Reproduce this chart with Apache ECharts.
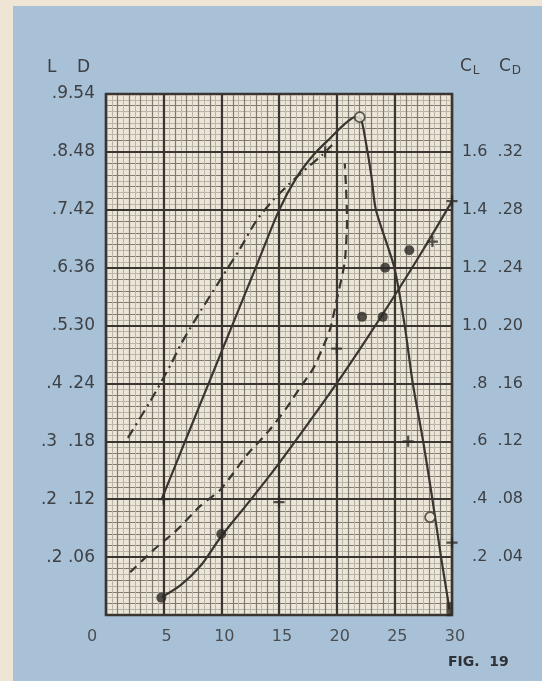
<!DOCTYPE html>
<html><head><meta charset="utf-8">
<script src="https://cdn.jsdelivr.net/npm/echarts@6/dist/echarts.min.js"></script>
<style>html,body{margin:0;padding:0;background:#a9c1d6;}#c{width:542px;height:681px;}</style>
</head><body><div id="c"></div>
<script>
// ---- data ----
const xTicks = [0, 5, 10, 15, 20, 25, 30];
const leftTickLabels = ['', '.2 .06', '.2  .12', '.3  .18', '.4 .24', '.5.30', '.6.36', '.7.42', '.8.48', '.9.54'];
const rightTickLabels = ['', '.2  .04', '.4  .08', '.6  .12', '.8  .16', '1.0  .20', '1.2  .24', '1.4  .28', '1.6  .32', ''];

// solid curve rising to a peak then falling
const alphaPeak = [4.8, 7.0, 9.0, 11.0, 13.0, 15.0, 16.5, 18.0, 19.5, 20.8, 21.6, 22.1, 22.5, 23.0, 23.4, 25.0, 25.9, 26.6, 27.5, 28.3, 29.05, 29.65, 29.75];
const valPeak   = [1.99, 3.07, 4.05, 5.03, 6.01, 6.99, 7.55, 7.95, 8.25, 8.5, 8.6, 8.57, 8.2, 7.6, 7.0, 6.0, 5.0, 4.0, 3.0, 2.0, 1.0, 0.26, 0.1];

// left dash-dot curve
const alphaDashDot = [1.9, 3.8, 5.6, 6.5, 8.2, 10.0, 11.6, 13.0, 14.5, 15.8, 17.0, 18.7, 19.6];
const valDashDot   = [3.06, 3.68, 4.32, 4.68, 5.25, 5.82, 6.32, 6.8, 7.17, 7.43, 7.65, 7.94, 8.12];

// middle dashed curve
const alphaDash = [2.1, 4.1, 6.15, 8.15, 9.9, 11.0, 12.2, 14.2, 15.7, 16.8, 18.0, 19.4, 20.0, 20.7, 20.9, 20.8, 20.7];
const valDash   = [0.74, 1.12, 1.47, 1.88, 2.16, 2.44, 2.76, 3.2, 3.59, 3.92, 4.27, 4.92, 5.44, 6.1, 6.82, 7.43, 7.8];

// right solid curve
const alphaRight = [4.85, 6.5, 8.2, 10.0, 12.5, 15.0, 17.5, 20.0, 22.5, 25.0, 27.5, 30.0];
const valRight   = [0.31, 0.52, 0.85, 1.36, 1.98, 2.62, 3.3, 4.0, 4.74, 5.51, 6.31, 7.15];

// plotted test points
const openPoints   = [[22.0, 8.6], [28.1, 1.69]];
const filledPoints = [[10.0, 1.4], [22.2, 5.15], [24.0, 5.15], [24.2, 6.0], [26.3, 6.3], [4.8, 0.3]];
const crossPoints  = [[15.0, 1.95], [20.0, 4.6], [26.2, 3.0], [19.0, 8.0], [30.0, 7.15], [28.3, 6.45], [5.0, 2.0], [30.0, 1.25]];
const endPoints    = [[29.75, 0.1]];

const pair = (xs, ys) => xs.map((x, i) => [x, ys[i]]);

const INK = '#3a3530';
const TXT = '#3d4146';
const FONT = 'DejaVu Sans';
const chart = echarts.init(document.getElementById('c'), null, {renderer: 'canvas'});

const baseHiddenX = {type: 'value', min: 0, max: 30, gridIndex: 0, axisLabel: {show: false}, axisTick: {show: false}, axisLine: {show: false}};
const baseHiddenY = {type: 'value', min: 0, max: 9, gridIndex: 0, axisLabel: {show: false}, axisTick: {show: false}, axisLine: {show: false}};

chart.setOption({
  animation: false,
  backgroundColor: '#a9c1d6',
  grid: {left: 106, right: 90, top: 94, bottom: 66, show: true, backgroundColor: '#ece6d8', borderColor: INK, borderWidth: 2.5},
  xAxis: [
    Object.assign({}, baseHiddenX, {
      interval: 5, z: 3,
      axisLabel: {show: true, margin: 14, color: '#4a4e52', fontFamily: FONT, fontSize: 16,
        formatter: v => v === 0 ? '{z|0}' : '{n|' + v + '}',
        rich: {z: {padding: [0, 28, 0, 0], fontSize: 16, fontFamily: FONT, color: '#4a4e52'}, n: {padding: [0, 0, 0, 6], fontSize: 16, fontFamily: FONT, color: '#4a4e52'}}},
      splitLine: {show: true, lineStyle: {color: INK, width: 2.2}}
    }),
    Object.assign({}, baseHiddenX, {
      interval: 1, z: 1,
      splitLine: {show: true, lineStyle: {color: '#817a70', width: 1.2}},
      minorTick: {show: false, splitNumber: 2},
      minorSplitLine: {show: true, lineStyle: {color: '#bbb4a8', width: 1}}
    })
  ],
  yAxis: [
    Object.assign({}, baseHiddenY, {
      interval: 1, z: 3, position: 'left',
      axisLabel: {show: true, margin: 11, color: TXT, fontFamily: FONT, fontSize: 17, formatter: v => leftTickLabels[v] || ''},
      splitLine: {show: true, lineStyle: {color: INK, width: 2.2}}
    }),
    Object.assign({}, baseHiddenY, {
      interval: 1, position: 'right',
      axisLabel: {show: true, margin: 71, align: 'right', color: TXT, fontFamily: FONT, fontSize: 16, formatter: v => rightTickLabels[v] || ''},
      splitLine: {show: false}
    }),
    Object.assign({}, baseHiddenY, {
      interval: 0.2, z: 1,
      splitLine: {show: true, lineStyle: {color: '#817a70', width: 1.2}},
      minorTick: {show: false, splitNumber: 2},
      minorSplitLine: {show: true, lineStyle: {color: '#bbb4a8', width: 1}}
    })
  ],
  graphic: [
    {type: 'rect', left: 0, top: 0, shape: {width: 13, height: 681}, style: {fill: '#eee5d4'}, z: -1},
    {type: 'rect', left: 0, top: 0, shape: {width: 542, height: 6}, style: {fill: '#eee5d4'}, z: -1},
    {type: 'text', left: 47, top: 59, style: {text: 'L', font: '17px "DejaVu Sans"', fill: TXT}},
    {type: 'text', left: 77, top: 59, style: {text: 'D', font: '17px "DejaVu Sans"', fill: TXT}},
    {type: 'text', left: 460, top: 58, style: {text: 'C{s|L}', font: '17px "DejaVu Sans"', fill: TXT,
      rich: {s: {fontSize: 12, fontFamily: FONT, fill: TXT, padding: [8, 0, 0, 1]}}}},
    {type: 'text', left: 499, top: 58, style: {text: 'C{s|D}', font: '17px "DejaVu Sans"', fill: TXT,
      rich: {s: {fontSize: 12, fontFamily: FONT, fill: TXT, padding: [8, 0, 0, 1]}}}},
    {type: 'text', left: 448, top: 655, style: {text: 'FIG.  19', font: 'bold 14px "DejaVu Sans"', fill: '#2e3236'}}
  ],
  series: [
    {type: 'line', name: 'peak', xAxisIndex: 0, yAxisIndex: 0, data: pair(alphaPeak, valPeak), smooth: 0.25, showSymbol: false,
      lineStyle: {color: INK, width: 2.2}, z: 5},
    {type: 'line', name: 'dashdot', xAxisIndex: 0, yAxisIndex: 0, data: pair(alphaDashDot, valDashDot), smooth: 0.25, showSymbol: false,
      lineStyle: {color: INK, width: 2.2, type: [10, 5, 2, 5]}, z: 5},
    {type: 'line', name: 'dash', xAxisIndex: 0, yAxisIndex: 0, data: pair(alphaDash, valDash), smooth: 0.2, showSymbol: false,
      lineStyle: {color: INK, width: 2.2, type: [9, 6]}, z: 5},
    {type: 'line', name: 'right', xAxisIndex: 0, yAxisIndex: 0, data: pair(alphaRight, valRight), smooth: 0.3, showSymbol: false,
      lineStyle: {color: INK, width: 2.2}, z: 5},
    {type: 'scatter', xAxisIndex: 0, yAxisIndex: 0, data: openPoints, symbol: 'circle', symbolSize: 10,
      itemStyle: {color: '#ece6d8', borderColor: INK, borderWidth: 1.8}, z: 6},
    {type: 'scatter', xAxisIndex: 0, yAxisIndex: 0, data: filledPoints, symbol: 'circle', symbolSize: 10,
      itemStyle: {color: '#2c2824'}, z: 6},
    {type: 'scatter', xAxisIndex: 0, yAxisIndex: 0, data: crossPoints, symbol: 'path://M0,4H10V6H0ZM4,0H6V10H4Z', symbolSize: 11,
      itemStyle: {color: '#2c2824'}, z: 6},
    {type: 'scatter', xAxisIndex: 0, yAxisIndex: 0, data: endPoints, symbol: 'rect', symbolSize: [5, 14],
      itemStyle: {color: '#2c2824'}, z: 6}
  ]
});
</script>
</body></html>
